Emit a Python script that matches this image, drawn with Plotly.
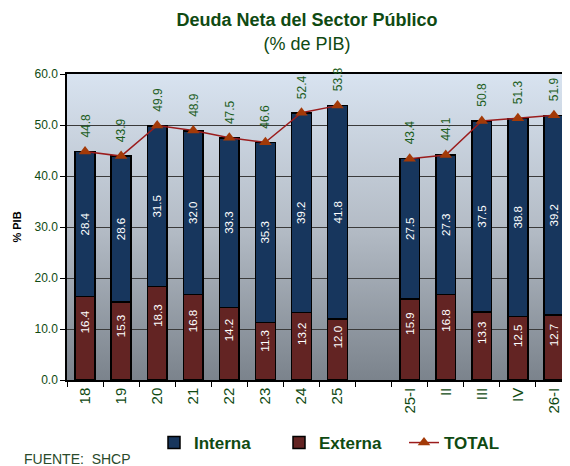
import base64
import plotly.graph_objects as go

categories = ["18", "19", "20", "21", "22", "23", "24", "25", " ", "25-I", "II", "III", "IV", "26-I"]
externa = [16.4, 15.3, 18.3, 16.8, 14.2, 11.3, 13.2, 12.0, None, 15.9, 16.8, 13.3, 12.5, 12.7]
interna = [28.4, 28.6, 31.5, 32.0, 33.3, 35.3, 39.2, 41.8, None, 27.5, 27.3, 37.5, 38.8, 39.2]
total = [44.8, 43.9, 49.9, 48.9, 47.5, 46.6, 52.4, 53.8, None, 43.4, 44.1, 50.8, 51.3, 51.9]
y_ticks = [0, 10, 20, 30, 40, 50, 60]

GREEN = "#0f4a12"
LABEL_GREEN = "#1d5e1d"
FONT = "Liberation Sans, Arial, sans-serif"

# the page body adds an 8px offset; figure coordinates = window coordinates - 8
OFF = 8
pl, pt, pw, ph = 67 - OFF, 74 - OFF, 505, 306

fig = go.Figure()

fig.add_trace(go.Bar(
    x=categories, y=externa, name="Externa", legendrank=2,
    marker=dict(color="#632423", line=dict(color="#000000", width=1.5)),
))
fig.add_trace(go.Bar(
    x=categories, y=interna, name="Interna", legendrank=1,
    marker=dict(color="#17365d", line=dict(color="#000000", width=1.5)),
    text=[f"{v:.1f}" if v is not None else "" for v in interna],
    textposition="inside", insidetextanchor="middle", textangle=-90,
    textfont=dict(color="#ffffff", size=11.5, family=FONT),
    constraintext="none",
))
fig.add_trace(go.Scatter(
    x=categories, y=total, name="TOTAL", mode="lines+markers", legendrank=3,
    line=dict(color="#9b1c1c", width=1.5),
    marker=dict(symbol="triangle-up", size=11, color="#a33a08"),
    connectgaps=False,
))

annotations = []
for i, (e, t) in enumerate(zip(externa, total)):
    if e is not None:
        annotations.append(dict(
            x=i, y=e * 0.69, xref="x", yref="y", text=f"{e:.1f}", textangle=-90,
            showarrow=False, font=dict(color="#ffffff", size=11.5, family=FONT),
            xanchor="center", yanchor="middle",
        ))
    if t is not None:
        annotations.append(dict(
            x=i, y=t, xref="x", yref="y", text=f"{t:.1f}", textangle=-90,
            showarrow=False, font=dict(color=LABEL_GREEN, size=12, family=FONT),
            xanchor="center", yanchor="bottom", yshift=12,
        ))
annotations.append(dict(
    x=(22 - OFF - pl) / pw, y=(pt + ph - (459 - OFF)) / ph, xref="paper", yref="paper",
    text="FUENTE:\u00a0 SHCP",
    showarrow=False, font=dict(color="#2a4a2a", size=14, family=FONT),
    xanchor="left", yanchor="middle",
))

svg = ('<svg xmlns="http://www.w3.org/2000/svg" width="100" height="100" preserveAspectRatio="none">'
       '<defs><linearGradient id="g" x1="0" y1="0" x2="0" y2="1">'
       '<stop offset="0" stop-color="#d8e3f0"/>'
       '<stop offset="0.5" stop-color="#b4bcc6"/>'
       '<stop offset="1" stop-color="#7b838c"/>'
       '</linearGradient></defs>'
       '<rect width="100" height="100" fill="url(#g)"/></svg>')
src = "data:image/svg+xml;base64," + base64.b64encode(svg.encode()).decode()

fig.update_layout(
    width=570, height=466,
    margin=dict(l=pl, r=570 - pl - pw, t=pt, b=466 - pt - ph, autoexpand=False),
    paper_bgcolor="#ffffff",
    plot_bgcolor="rgba(0,0,0,0)",
    barmode="stack", bargap=0.45,
    font=dict(family=FONT, color=GREEN),
    title=dict(
        text="<b>Deuda Neta del Sector Público</b><br>(% de PIB)",
        x=(307 - OFF) / 570, xanchor="center", y=0.961, yanchor="top",
        font=dict(size=18, color=GREEN, family=FONT),
    ),
    showlegend=True,
    legend=dict(
        orientation="h", x=(154 - OFF - pl) / pw, xanchor="left",
        y=(pt + ph - (443 - OFF)) / ph, yanchor="middle",
        font=dict(size=17, color=GREEN, family=FONT, weight="bold"),
        bgcolor="rgba(0,0,0,0)", itemwidth=30, traceorder="normal",
        entrywidth=80, entrywidthmode="pixels",
    ),
    images=[dict(source=src, xref="paper", yref="paper", x=0, y=1, sizex=1, sizey=1,
                 xanchor="left", yanchor="top", sizing="stretch", layer="below")],
    annotations=annotations,
)

fig.update_xaxes(
    type="category", categoryorder="array", categoryarray=categories,
    range=[-0.5, len(categories) - 0.5],
    tickangle=-90, tickfont=dict(size=15, color=GREEN, family=FONT),
    ticks="outside", ticklen=5, tickcolor="#000000", tickson="boundaries",
    showline=True, linecolor="#000000", linewidth=1.5, mirror=True,
    showgrid=False,
)
fig.update_yaxes(
    range=[0, 60], tickvals=y_ticks, ticktext=[f"{v:.1f}" for v in y_ticks],
    tickfont=dict(size=12, color=GREEN, family=FONT),
    ticks="outside", ticklen=5, tickcolor="#000000",
    showline=True, linecolor="#000000", linewidth=1.5,
    showgrid=True, gridcolor="#3a3a3a", gridwidth=1,
    zeroline=False,
    title=dict(text="<b>% PIB</b>", font=dict(size=11, color="#000000", family=FONT), standoff=11),
)

fig.write_html("out.html")
